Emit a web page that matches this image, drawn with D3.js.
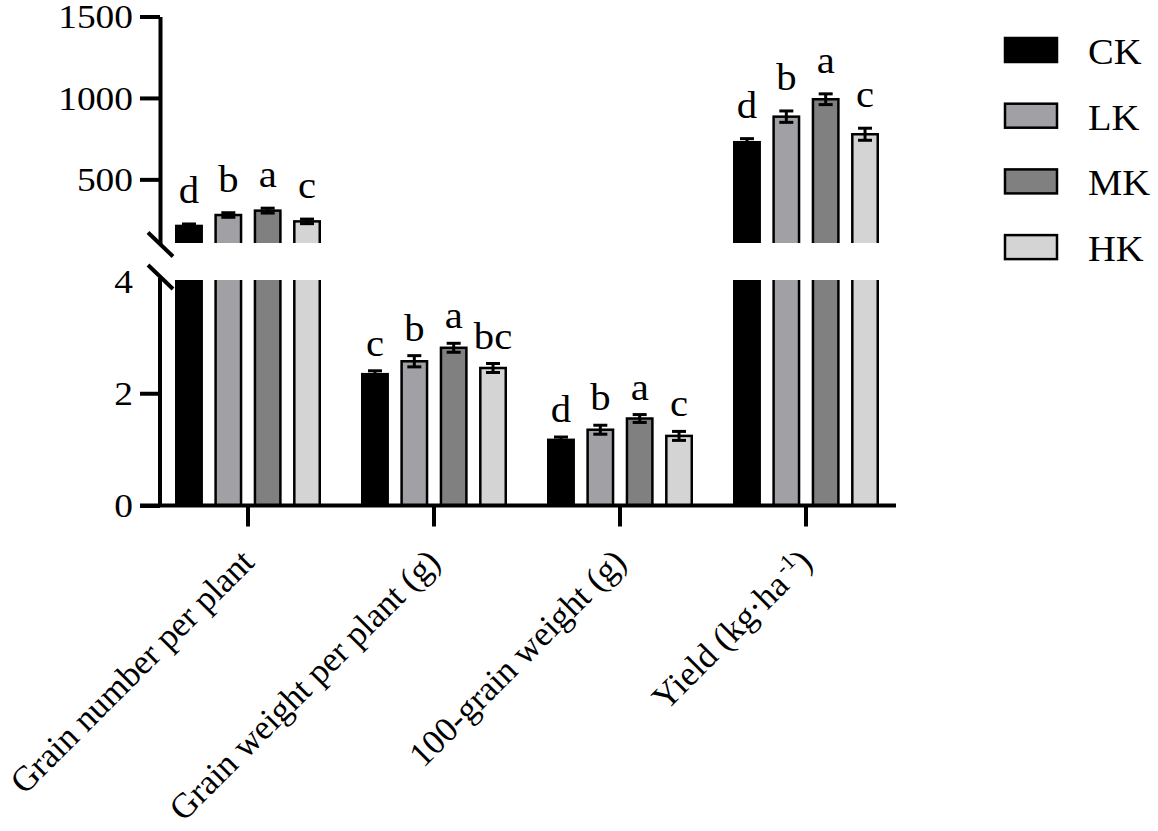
<!DOCTYPE html>
<html>
<head>
<meta charset="utf-8">
<script src="https://cdn.jsdelivr.net/npm/d3@7"></script>
<style>
  body { margin: 0; background: #fff; }
  svg text { font-family: "Times New Roman", "Liberation Serif", Tinos, serif; fill: #000; }
</style>
</head>
<body>
<svg id="chart" width="1158" height="831"></svg>
<script>
const categories = ["Grain number per plant", "Grain weight per plant (g)", "100-grain weight (g)", "Yield"];
const treatments = ["CK", "LK", "MK", "HK"];
const colors = ["#000000", "#a0a0a5", "#808080", "#d4d4d4"];

// one array per category, values in treatment order
const grainNumber = [214, 281, 308, 242];
const grainNumberErr = [12, 14, 15, 14];
const grainNumberSig = ["d", "b", "a", "c"];

const grainWeight = [2.34, 2.57, 2.81, 2.45];
const grainWeightErr = [0.06, 0.10, 0.08, 0.08];
const grainWeightSig = ["c", "b", "a", "bc"];

const hundredGrain = [1.17, 1.35, 1.55, 1.24];
const hundredGrainErr = [0.05, 0.08, 0.07, 0.08];
const hundredGrainSig = ["d", "b", "a", "c"];

const yieldVals = [728, 885, 992, 777];
const yieldErr = [22, 35, 33, 37];
const yieldSig = ["d", "b", "a", "c"];

const topTicks = [500, 1000, 1500];
const bottomTicks = [0, 2, 4];

const groups = [
  { cat: categories[0], vals: grainNumber, errs: grainNumberErr, sig: grainNumberSig },
  { cat: categories[1], vals: grainWeight, errs: grainWeightErr, sig: grainWeightSig },
  { cat: categories[2], vals: hundredGrain, errs: hundredGrainErr, sig: hundredGrainSig },
  { cat: categories[3], vals: yieldVals, errs: yieldErr, sig: yieldSig }
];

const svg = d3.select("#chart");
const stretch = "scale(1.1,1)";

const x = d3.scaleBand().domain(categories).range([155, 899]);
const xInner = d3.scaleBand().domain(treatments).range([20, 166]).paddingInner(0.29);
const color = d3.scaleOrdinal().domain(treatments).range(colors);

// broken y axis: two segments
const yTop = d3.scaleLinear().domain([100, 1500]).range([244.5, 16.5]);
const yBot = d3.scaleLinear().domain([0, 4]).range([505.5, 281]);
const axisX = 160;

const defs = svg.append("defs");
defs.append("clipPath").attr("id", "clipTop")
  .append("rect").attr("x", 0).attr("y", 0).attr("width", 1158).attr("height", yTop.range()[0] - 1.5);
defs.append("clipPath").attr("id", "clipBot")
  .append("rect").attr("x", 0).attr("y", yBot.range()[1] - 1).attr("width", 1158).attr("height", 300);

const bars = [];
groups.forEach(g => {
  treatments.forEach((t, i) => {
    bars.push({ cat: g.cat, t: t, v: g.vals[i], e: g.errs[i], sig: g.sig[i], big: g.vals[i] > 4 });
  });
});

const bw = xInner.bandwidth();
const sw = 2.5;

// bottom segment bars
const gBot = svg.append("g").attr("clip-path", "url(#clipBot)");
gBot.selectAll("rect")
  .data(bars)
  .enter().append("rect")
  .attr("x", d => x(d.cat) + xInner(d.t) + sw / 2)
  .attr("width", bw - sw)
  .attr("y", d => d.big ? yBot(4.5) : yBot(d.v))
  .attr("height", d => d.big ? yBot(0) - yBot(4.5) : yBot(0) - yBot(d.v))
  .attr("fill", d => color(d.t))
  .attr("stroke", "#000")
  .attr("stroke-width", sw);

// top segment bars
const bigBars = bars.filter(d => d.big);
const gTop = svg.append("g").attr("clip-path", "url(#clipTop)");
gTop.selectAll("rect")
  .data(bigBars)
  .enter().append("rect")
  .attr("x", d => x(d.cat) + xInner(d.t) + sw / 2)
  .attr("width", bw - sw)
  .attr("y", d => yTop(d.v))
  .attr("height", d => yTop(0) - yTop(d.v))
  .attr("fill", d => color(d.t))
  .attr("stroke", "#000")
  .attr("stroke-width", sw);

// error bars
const yOf = d => d.big ? yTop : yBot;
const cx = d => x(d.cat) + xInner(d.t) + bw / 2;
const err = svg.append("g").attr("stroke", "#000").attr("stroke-width", 3);
err.selectAll(".stem")
  .data(bars)
  .enter().append("line")
  .attr("x1", cx).attr("x2", cx)
  .attr("y1", d => yOf(d)(d.v - d.e))
  .attr("y2", d => yOf(d)(d.v + d.e));
err.selectAll(".capHi")
  .data(bars)
  .enter().append("line")
  .attr("x1", d => cx(d) - 7).attr("x2", d => cx(d) + 7)
  .attr("y1", d => yOf(d)(d.v + d.e))
  .attr("y2", d => yOf(d)(d.v + d.e));
err.selectAll(".capLo")
  .data(bars)
  .enter().append("line")
  .attr("x1", d => cx(d) - 7).attr("x2", d => cx(d) + 7)
  .attr("y1", d => yOf(d)(d.v - d.e))
  .attr("y2", d => yOf(d)(d.v - d.e));

// significance letters
svg.append("g")
  .selectAll("text")
  .data(bars)
  .enter().append("text")
  .attr("text-anchor", "middle")
  .attr("font-size", 37)
  .attr("transform", d => `translate(${cx(d)},${yOf(d)(d.v + d.e) - (d.big ? 21 : 15)}) ${stretch}`)
  .text(d => d.sig);

// y axes
function styleAxis(g) {
  g.attr("font-family", null);
  g.select(".domain").attr("stroke-width", 4);
  g.selectAll(".tick line").attr("stroke-width", 4);
  g.selectAll(".tick text")
    .attr("font-size", 34)
    .attr("fill", "#000")
    .attr("x", null)
    .attr("dy", "0.33em")
    .attr("transform", `translate(-27,0) ${stretch}`);
}

svg.append("g")
  .attr("transform", `translate(${axisX},0)`)
  .call(d3.axisLeft(yTop).tickValues(topTicks).tickSize(20).tickSizeOuter(0).tickFormat(d3.format("d")))
  .call(styleAxis);

const botAxis = svg.append("g")
  .attr("transform", `translate(${axisX},0)`)
  .call(d3.axisLeft(yBot).tickValues(bottomTicks).tickSize(20).tickSizeOuter(0).tickFormat(d3.format("d")))
  .call(styleAxis);
botAxis.selectAll(".tick").filter(d => d === 4).select("line").remove();
botAxis.select(".domain").attr("d", `M0,${yBot.range()[0]}V${yBot.range()[1] - 3}`);

// break marks
const breaks = [yTop.range()[0], yBot.range()[1] - 4];
svg.append("g")
  .selectAll("line")
  .data(breaks)
  .enter().append("line")
  .attr("x1", axisX - 12).attr("x2", axisX + 13)
  .attr("y1", d => d - 12).attr("y2", d => d + 12)
  .attr("stroke", "#000").attr("stroke-width", 4);

// x axis
const xAxis = svg.append("g")
  .attr("transform", `translate(0,${yBot(0)})`)
  .call(d3.axisBottom(x).tickSize(21).tickSizeOuter(0).tickFormat(""));
xAxis.select(".domain").attr("stroke-width", 4).attr("d", "M140,0H896");
xAxis.selectAll(".tick line").attr("stroke-width", 4);

// category labels
const labels = svg.append("g")
  .selectAll("text")
  .data(categories)
  .enter().append("text")
  .attr("text-anchor", "end")
  .attr("font-size", 35)
  .attr("transform", d => `translate(${x(d) + x.bandwidth() / 2 + 8},564) rotate(-45)`)
  .text(d => d === "Yield" ? null : d);

labels.filter(d => d === "Yield").each(function() {
  const t = d3.select(this);
  t.append("tspan").text("Yield (kg·ha");
  t.append("tspan").attr("dx", 3).attr("dy", -13).attr("font-size", 22).text("-1");
  t.append("tspan").attr("dy", 13).text(")");
});

// legend
const legend = svg.append("g").attr("transform", "translate(1005,38)");
treatments.forEach((t, i) => {
  legend.append("rect")
    .attr("x", 0).attr("y", i * 65.7)
    .attr("width", 52).attr("height", 24)
    .attr("fill", color(t))
    .attr("stroke", "#000").attr("stroke-width", sw);
  legend.append("text")
    .attr("transform", `translate(83,${i * 65.7 + 26}) ${stretch}`)
    .attr("font-size", 35)
    .text(t);
});
</script>
</body>
</html>
